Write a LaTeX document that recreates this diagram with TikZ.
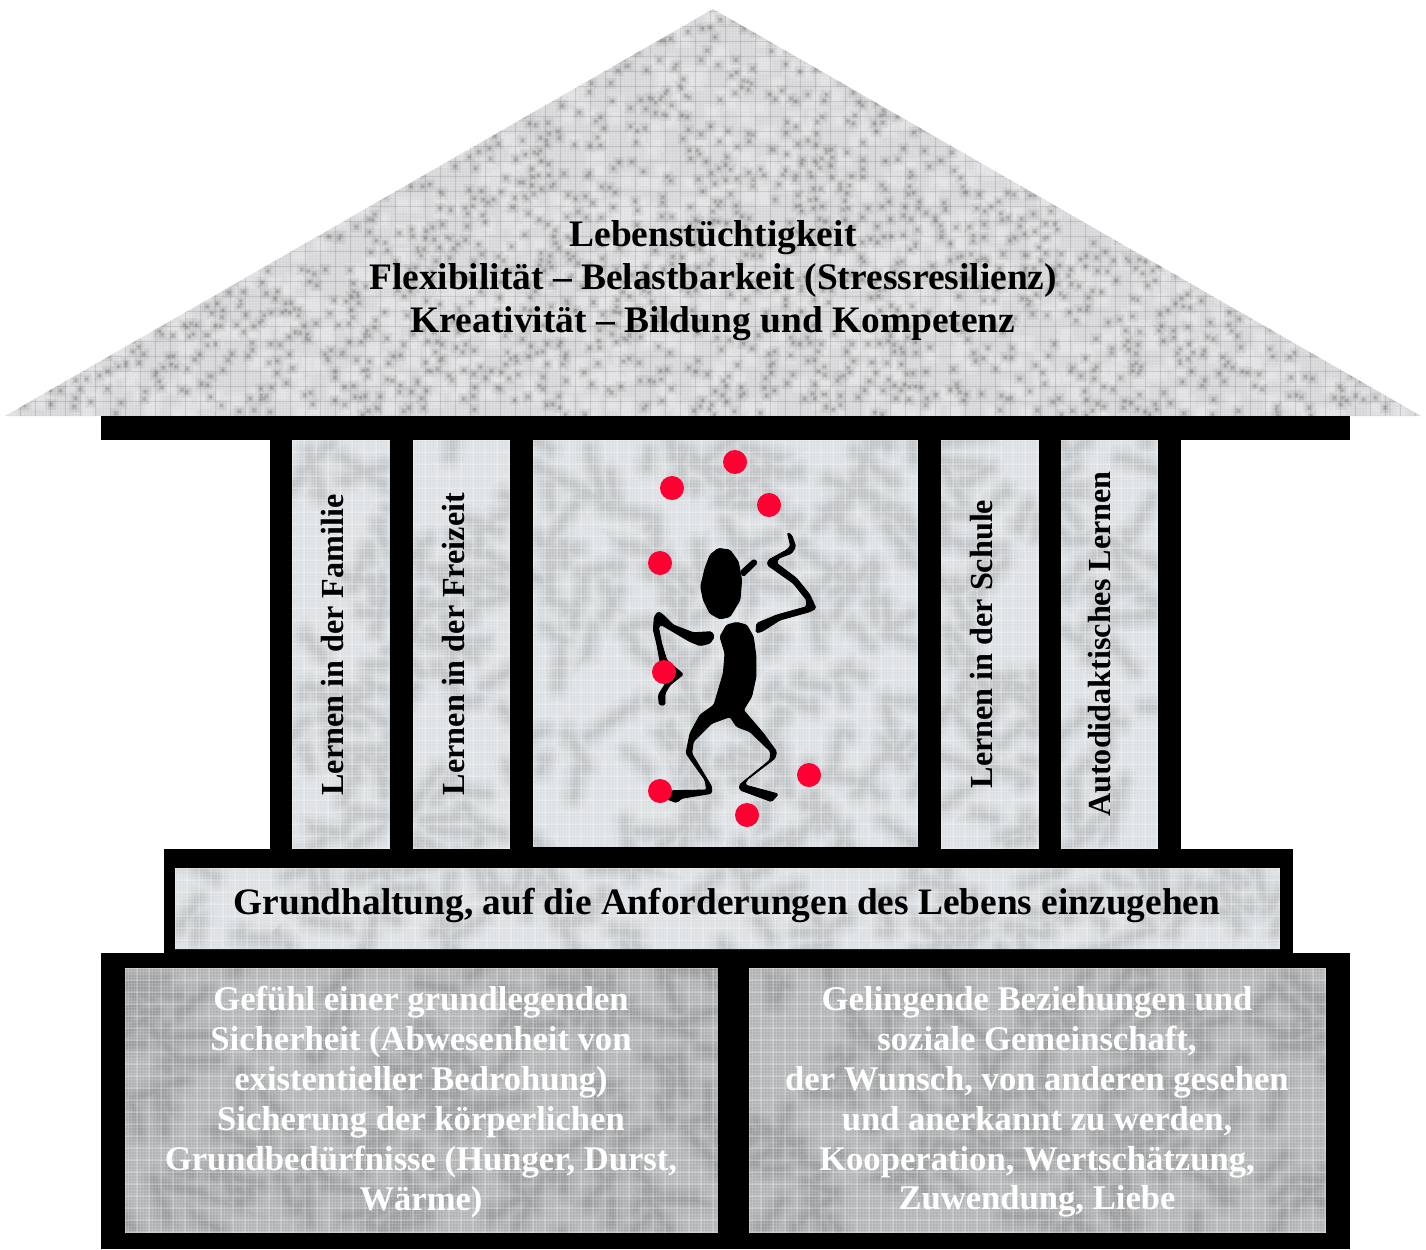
\documentclass[tikz,border=0pt]{standalone}
\usepackage{xcolor}
\usepackage{fontspec}
\setmainfont{Liberation Serif}
\usetikzlibrary{positioning, calc}
\definecolor{marblelight}{RGB}{220, 224, 227}
\definecolor{marbledark}{RGB}{178, 180, 182}
\definecolor{roofgrey}{RGB}{214, 214, 216}
\definecolor{ballred}{RGB}{255, 0, 51}
\tikzset{
    blackpart/.style = {fill=black, draw=none},
    figurepart/.style = {fill=black, draw=black, line width=0.5pt, line join=round, rounded corners=0.9pt},
    vein/.style = {line cap=round, draw=black, draw opacity=0.02},
    fineline/.style = {white, opacity=0.13, line width=0.55pt},
    meshline/.style = {white, opacity=0.2, line width=0.6pt},
    headtext/.style = {font=\bfseries\fontsize{21.3}{24.4}\selectfont, align=center, text=black, inner sep=0pt},
    columntext/.style = {font=\bfseries\fontsize{18.3}{21}\selectfont, rotate=90, text=black, inner sep=0pt},
    groundtext/.style = {font=\bfseries\fontsize{21.25}{24}\selectfont, text=black, inner sep=0pt},
    basetext/.style = {font=\bfseries\fontsize{19.7}{22.7}\selectfont, align=center, text=white, inner sep=0pt},
    ball/.style = {fill=ballred, draw=none}
}
% marble panel: base colour, soft veins, fine mesh
\newcommand{\marblepanel}[6]{%
  \begin{scope}
    \clip (#1,#2) rectangle (#3,#4);
    \fill[#5] (#1,#2) rectangle (#3,#4);
    \pgfmathsetmacro{\panelw}{#3-#1}
    \pgfmathsetmacro{\panelh}{#4-#2}
    \pgfmathtruncatemacro{\veincount}{\panelw/#6*\panelh}
    \foreach \w in {16pt,12pt,9pt,6.5pt,4.5pt,2.5pt}{
      \pgfmathsetseed{#1+#2}
      \draw[vein, line width=\w] foreach [evaluate=\v as \px using #1+rnd*\panelw,
          evaluate=\v as \py using #2+rnd*\panelh,
          evaluate=\v as \pa using 360*rnd,
          evaluate=\v as \pb using \pa-70+140*rnd,
          evaluate=\v as \pl using 6+rnd*20] \v in {1,...,\veincount}
        {(\px,\py) .. controls +(\pa:\pl) and +(\pb:\pl) .. +(\pa:2*\pl)};
    }
    \draw[fineline] foreach \gx in {#1,\the\numexpr#1+3\relax,...,#3} {(\gx,#2) -- (\gx,#4)};
    \draw[fineline] foreach \gy in {#2,\the\numexpr#2+3\relax,...,#4} {(#1,\gy) -- (#3,\gy)};
    \draw[meshline] foreach \gx in {#1,\the\numexpr#1+12\relax,...,#3} {(\gx,#2) -- (\gx,#4)};
    \draw[meshline] foreach \gy in {#2,\the\numexpr#2+12\relax,...,#4} {(#1,\gy) -- (#3,\gy)};
  \end{scope}%
}
% one layer of roof speckles, same positions for the same seed
\newcommand{\speckles}[5]{%
  \pgfmathsetseed{#1}
  \fill[#2, opacity=#3] foreach \s in {1,...,#5}
    {({5+rnd*1416-#4/2},{9+rnd*407-#4/2}) rectangle +(#4,#4)};
}
\begin{document}
\begin{tikzpicture}[x=0.02cm, y=-0.02cm]
\useasboundingbox (0,0) rectangle (1426,1249);

% roof
\begin{scope}
  \clip (713,9) -- (1421,416) -- (5,416) -- cycle;
  \fill[roofgrey] (0,0) rectangle (1426,416);
  \speckles{77}{white}{0.16}{16}{1500}
  \speckles{77}{white}{0.16}{9}{1500}
  \speckles{4711}{black}{0.06}{11}{2600}
  \speckles{4711}{black}{0.08}{6}{2600}
  \speckles{4711}{black}{0.14}{3}{2600}
  \draw[fineline] foreach \gx in {5,8,...,1421} {(\gx,0) -- (\gx,416)};
  \draw[fineline] foreach \gy in {11,14,...,416} {(0,\gy) -- (1426,\gy)};
  \draw[black, opacity=0.12, line width=0.3pt] foreach \gx in {5,20,...,1421} {(\gx,0) -- (\gx,416)};
  \draw[black, opacity=0.12, line width=0.3pt] foreach \gy in {11,26,...,416} {(0,\gy) -- (1426,\gy)};
\end{scope}

% black frame of the house
\fill[blackpart] (101,416) rectangle (1350,440);
\fill[blackpart] (270,440) rectangle (1181,850);
\fill[blackpart] (164,849) rectangle (1293,953);
\fill[blackpart] (101,953) rectangle (1350,1249);

% panels
\marblepanel{292}{440}{390}{849}{marblelight}{1000}
\marblepanel{413}{440}{510}{849}{marblelight}{1000}
\marblepanel{533}{440}{918}{847}{marblelight}{1000}
\marblepanel{941}{440}{1039}{849}{marblelight}{1000}
\marblepanel{1061}{440}{1158}{849}{marblelight}{1000}
\marblepanel{175}{868}{1280}{949}{marblelight}{1000}
\marblepanel{125}{968}{718}{1233}{marbledark}{1200}
\marblepanel{749}{968}{1326}{1233}{marbledark}{1200}

% juggler
\begin{scope}[shift={(530,440)}, x=0.02cm/3, y=-0.02cm/3]
  \fill[figurepart] (565,325) -- (600,330) -- (625,365) -- (635,420) -- (630,480) -- (600,530) -- (570,537) -- (540,520) -- (520,480) -- (512,440) -- (525,385) -- (540,345) -- cycle;
  \fill[figurepart] (630,395) -- (672,357) -- (683,368) -- (640,410) -- cycle;
  \fill[figurepart] (620,547) -- (650,555) -- (670,590) -- (678,650) -- (678,710) -- (665,770) -- (640,810) -- (700,880) -- (740,935) -- (735,955) -- (650,1020) -- (645,1035) -- (745,1062) -- (725,1085) -- (630,1050) -- (628,1035) -- (720,960) -- (722,935) -- (660,875) -- (620,860) -- (600,830) -- (545,850) -- (490,905) -- (485,940) -- (545,1040) -- (545,1060) -- (455,1075) -- (440,1088) -- (405,1075) -- (425,1052) -- (530,1050) -- (525,1020) -- (468,940) -- (480,880) -- (510,825) -- (552,795) -- (580,700) -- (585,640) -- (570,590) -- (590,555) -- cycle;
  \fill[figurepart] (680,550) -- (740,525) -- (830,500) -- (830,480) -- (790,430) -- (712,375) -- (715,360) -- (770,330) -- (782,318) -- (772,277) -- (785,285) -- (797,320) -- (785,340) -- (745,355) -- (740,370) -- (800,415) -- (840,465) -- (858,505) -- (840,515) -- (750,540) -- (695,575) -- (678,578) -- cycle;
  \fill[figurepart] (385,515) -- (400,525) -- (430,555) -- (490,578) -- (545,575) -- (553,590) -- (540,610) -- (510,617) -- (480,605) -- (395,555) -- (385,560) -- (395,610) -- (410,660) -- (460,703) -- (420,735) -- (405,760) -- (405,795) -- (388,795) -- (385,765) -- (410,725) -- (395,690) -- (380,610) -- (370,570) -- (373,530) -- cycle;
\end{scope}

% balls
\foreach \bx/\by in {735/462, 672/488, 769/505, 660/563, 664/672, 660/791, 747/815, 809/775}
  \fill[ball] (\bx,\by) circle[radius=12];

% labels
\node (roof) [headtext] at (713,281) {Lebenstüchtigkeit\\Flexibilität – Belastbarkeit (Stressresilienz)\\Kreativität – Bildung und Kompetenz};
\node (family) [columntext] at (332,645) {Lernen in der Familie};
\node (leisure) [columntext] at (453,644) {Lernen in der Freizeit};
\node (school) [columntext] at (982,644) {Lernen in der Schule};
\node (autodidact) [columntext] at (1100,644) {Autodidaktisches Lernen};
\node (attitude) [groundtext] at (727,905) {Grundhaltung, auf die Anforderungen des Lebens einzugehen};
\node (safety) [basetext] at (421,1102) {Gefühl einer grundlegenden\\Sicherheit (Abwesenheit von\\existentieller Bedrohung)\\Sicherung der körperlichen\\Grundbedürfnisse (Hunger, Durst,\\Wärme)};
\node (community) [basetext] at (1037,1102) {Gelingende Beziehungen und\\soziale Gemeinschaft,\\der Wunsch, von anderen gesehen\\und anerkannt zu werden,\\Kooperation, Wertschätzung,\\Zuwendung, Liebe};
\end{tikzpicture}
\end{document}
